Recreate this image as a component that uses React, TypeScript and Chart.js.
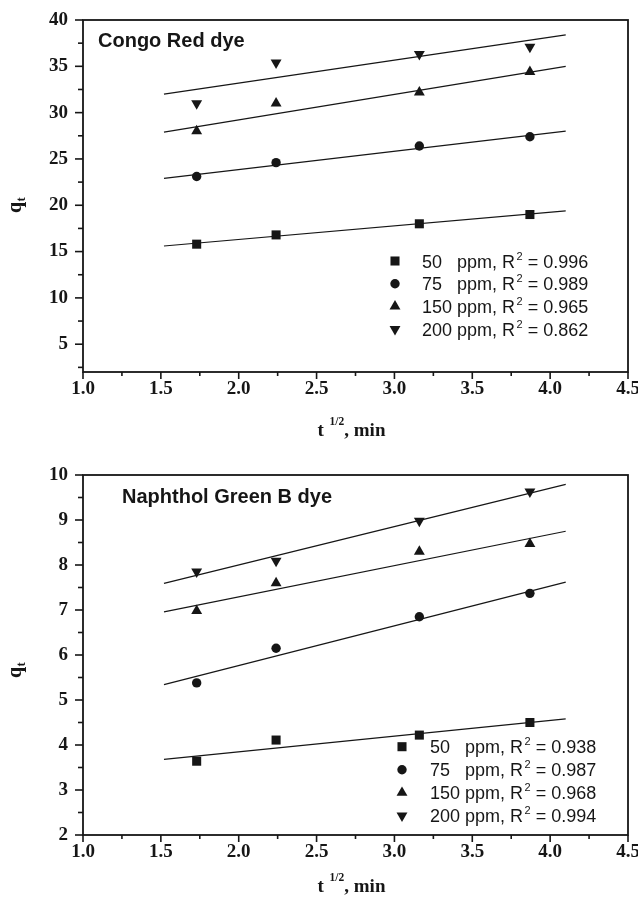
import React, { useEffect, useRef } from 'react';
import { Chart, registerables } from 'chart.js';

Chart.register(...registerables);

// ---------- data ----------
const timeRoot = [1.73, 2.24, 3.16, 3.87];
const fitX = [1.52, 4.1];
const concentrations = ['50', '75', '150', '200'];
const markerStyles = ['rect', 'circle', 'triangle', 'triangle'];
const markerRotations = [0, 0, 0, 180];
const markerRadii = [6.4, 4.7, 6.3, 6.3];

const xMajorTicks = [1.0, 1.5, 2.0, 2.5, 3.0, 3.5, 4.0, 4.5];
const xMinorTicks = [1.25, 1.75, 2.25, 2.75, 3.25, 3.75, 4.25];

// Congo Red dye
const congoQ50 = [15.8, 16.8, 18.0, 19.0];
const congoQ75 = [23.1, 24.6, 26.4, 27.4];
const congoQ150 = [28.0, 31.0, 32.2, 34.4];
const congoQ200 = [31.0, 35.4, 36.3, 37.1];
const congoFit50 = [15.6, 19.4];
const congoFit75 = [22.9, 28.0];
const congoFit150 = [27.9, 35.0];
const congoFit200 = [32.0, 38.4];
const congoR2 = ['0.996', '0.989', '0.965', '0.862'];
const congoYMajor = [5, 10, 15, 20, 25, 30, 35, 40];
const congoYMinor = [2.5, 7.5, 12.5, 17.5, 22.5, 27.5, 32.5, 37.5];

// Naphthol Green B dye
const naphQ50 = [3.64, 4.11, 4.22, 4.5];
const naphQ75 = [5.38, 6.15, 6.85, 7.37];
const naphQ150 = [6.98, 7.6, 8.3, 8.47];
const naphQ200 = [7.85, 8.09, 8.98, 9.63];
const naphFit50 = [3.68, 4.58];
const naphFit75 = [5.34, 7.62];
const naphFit150 = [6.96, 8.75];
const naphFit200 = [7.59, 9.79];
const naphR2 = ['0.938', '0.987', '0.968', '0.994'];
const naphYMajor = [2, 3, 4, 5, 6, 7, 8, 9, 10];
const naphYMinor = [2.5, 3.5, 4.5, 5.5, 6.5, 7.5, 8.5, 9.5];

// ---------- layout ----------
type PanelSpec = {
  title: string;
  q: number[][];
  fit: number[][];
  r2: string[];
  yMin: number;
  yMax: number;
  yMajor: number[];
  yMinor: number[];
  padTop: number;
  xAxisHeight: number;
  titleX: number;
  titleY: number;
  legSymX: number;
  legTextX: number;
  legY0: number;
  legDy: number;
  xTitleBase: number;
  yTitleStart: number;
};

const panels: PanelSpec[] = [
  {
    title: 'Congo Red dye',
    q: [congoQ50, congoQ75, congoQ150, congoQ200],
    fit: [congoFit50, congoFit75, congoFit150, congoFit200],
    r2: congoR2,
    yMin: 2,
    yMax: 40,
    yMajor: congoYMajor,
    yMinor: congoYMinor,
    padTop: 20,
    xAxisHeight: 77,
    titleX: 98,
    titleY: 47,
    legSymX: 395,
    legTextX: 422,
    legY0: 261,
    legDy: 22.7,
    xTitleBase: 436,
    yTitleStart: 213,
  },
  {
    title: 'Naphthol Green B dye',
    q: [naphQ50, naphQ75, naphQ150, naphQ200],
    fit: [naphFit50, naphFit75, naphFit150, naphFit200],
    r2: naphR2,
    yMin: 2,
    yMax: 10,
    yMajor: naphYMajor,
    yMinor: naphYMinor,
    padTop: 26,
    xAxisHeight: 63,
    titleX: 122,
    titleY: 54,
    legSymX: 402,
    legTextX: 430,
    legY0: 297.7,
    legDy: 23,
    xTitleBase: 443,
    yTitleStart: 229,
  },
];

const INK = '#161616';
const SERIF = '"Liberation Serif", "Times New Roman", serif';
const SANS = '"Liberation Sans", Arial, sans-serif';

function drawMarker(ctx: CanvasRenderingContext2D, style: string, rot: number, r: number, x: number, y: number) {
  ctx.beginPath();
  if (style === 'rect') {
    const s = Math.SQRT1_2 * r;
    ctx.rect(x - s, y - s, 2 * s, 2 * s);
  } else if (style === 'circle') {
    ctx.arc(x, y, r, 0, Math.PI * 2);
  } else {
    let a = (rot * Math.PI) / 180;
    ctx.moveTo(x + Math.sin(a) * r, y - Math.cos(a) * r);
    a += (2 * Math.PI) / 3;
    ctx.lineTo(x + Math.sin(a) * r, y - Math.cos(a) * r);
    a += (2 * Math.PI) / 3;
    ctx.lineTo(x + Math.sin(a) * r, y - Math.cos(a) * r);
    ctx.closePath();
  }
  ctx.fill();
}

function buildConfig(spec: PanelSpec): any {
  const datasets: any[] = [];
  spec.q.forEach((vals, i) => {
    datasets.push({
      label: concentrations[i] + ' ppm',
      data: timeRoot.map((x, j) => ({ x, y: vals[j] })),
      showLine: false,
      pointStyle: markerStyles[i],
      pointRotation: markerRotations[i],
      pointRadius: markerRadii[i],
      pointBackgroundColor: INK,
      pointBorderColor: INK,
      pointBorderWidth: 0,
    });
    datasets.push({
      label: concentrations[i] + ' fit',
      data: fitX.map((x, j) => ({ x, y: spec.fit[i][j] })),
      showLine: true,
      borderColor: INK,
      borderWidth: 1.2,
      pointRadius: 0,
      fill: false,
      tension: 0,
    });
  });

  const decor = {
    id: 'decor',
    afterDraw(chart: any) {
      const { ctx, chartArea: a, scales } = chart;
      const xs = scales.x;
      const ys = scales.y;
      ctx.save();
      ctx.strokeStyle = INK;
      ctx.lineWidth = 1.6;
      const seg = (x1: number, y1: number, x2: number, y2: number) => {
        ctx.beginPath();
        ctx.moveTo(x1, y1);
        ctx.lineTo(x2, y2);
        ctx.stroke();
      };
      xMajorTicks.forEach((v) => {
        const p = xs.getPixelForValue(v);
        seg(p, a.bottom, p, a.bottom + 7);
      });
      xMinorTicks.forEach((v) => {
        const p = xs.getPixelForValue(v);
        seg(p, a.bottom, p, a.bottom + 4);
      });
      spec.yMajor.forEach((v) => {
        const p = ys.getPixelForValue(v);
        seg(a.left - 8, p, a.left, p);
      });
      spec.yMinor.forEach((v) => {
        const p = ys.getPixelForValue(v);
        seg(a.left - 5, p, a.left, p);
      });
      ctx.lineWidth = 1.8;
      ctx.strokeRect(a.left, a.top, a.right - a.left, a.bottom - a.top);

      ctx.fillStyle = INK;
      ctx.textAlign = 'left';
      ctx.textBaseline = 'alphabetic';

      // panel title
      ctx.font = 'bold 20px ' + SANS;
      ctx.fillText(spec.title, spec.titleX, spec.titleY);

      // legend
      spec.r2.forEach((r, i) => {
        const yy = spec.legY0 + i * spec.legDy;
        drawMarker(ctx, markerStyles[i], markerRotations[i], markerRadii[i], spec.legSymX, yy);
        const base = yy + 6.5;
        ctx.font = '18px ' + SANS;
        ctx.fillText(concentrations[i], spec.legTextX, base);
        let cx = spec.legTextX + 35;
        ctx.fillText('ppm, R', cx, base);
        cx += ctx.measureText('ppm, R').width + 1.5;
        ctx.font = '11px ' + SANS;
        ctx.fillText('2', cx, base - 8);
        cx += ctx.measureText('2').width;
        ctx.font = '18px ' + SANS;
        ctx.fillText(' = ' + r, cx, base);
      });

      // x axis title: t^{1/2}, min
      let tx = 317.5;
      ctx.font = 'bold 19px ' + SERIF;
      ctx.fillText('t', tx, spec.xTitleBase);
      tx += ctx.measureText('t ').width + 1;
      ctx.font = 'bold 11.5px ' + SERIF;
      ctx.fillText('1/2', tx, spec.xTitleBase - 11);
      tx += ctx.measureText('1/2').width;
      ctx.font = 'bold 19px ' + SERIF;
      ctx.fillText(', min', tx, spec.xTitleBase);

      // y axis title: q_t (rotated)
      ctx.save();
      ctx.translate(21, spec.yTitleStart);
      ctx.rotate(-Math.PI / 2);
      ctx.font = 'bold 20px ' + SERIF;
      ctx.fillText('q', 0, 0);
      const qw = ctx.measureText('q').width;
      ctx.font = 'bold 13px ' + SERIF;
      ctx.fillText('t', qw + 0.5, 4);
      ctx.restore();

      ctx.restore();
    },
  };

  const tickFont = { family: SERIF, weight: 'bold', size: 19 };

  return {
    type: 'scatter',
    data: { datasets },
    plugins: [decor],
    options: {
      responsive: false,
      animation: false,
      events: [],
      layout: { padding: { left: 0, right: 10, top: spec.padTop, bottom: 0 } },
      plugins: { legend: { display: false }, tooltip: { enabled: false }, title: { display: false } },
      scales: {
        x: {
          type: 'linear',
          min: 1,
          max: 4.5,
          afterBuildTicks: (s: any) => {
            s.ticks = xMajorTicks.map((v) => ({ value: v }));
          },
          ticks: {
            callback: (v: any) => Number(v).toFixed(1),
            font: tickFont,
            color: INK,
            padding: 6,
            maxRotation: 0,
            autoSkip: false,
          },
          grid: { display: false, drawTicks: false },
          border: { display: false },
          afterFit: (s: any) => {
            s.height = spec.xAxisHeight;
            s.paddingLeft = 0;
            s.paddingRight = 0;
          },
        },
        y: {
          type: 'linear',
          min: spec.yMin,
          max: spec.yMax,
          afterBuildTicks: (s: any) => {
            s.ticks = spec.yMajor.map((v) => ({ value: v }));
          },
          ticks: {
            callback: (v: any) => String(v),
            font: tickFont,
            color: INK,
            padding: 15,
            autoSkip: false,
          },
          grid: { display: false, drawTicks: false },
          border: { display: false },
          afterFit: (s: any) => {
            s.width = 83;
            s.paddingTop = 0;
            s.paddingBottom = 0;
          },
        },
      },
    },
  };
}

function Panel({ spec, top }: { spec: PanelSpec; top: number }) {
  const ref = useRef<HTMLCanvasElement>(null);
  useEffect(() => {
    const chart = new Chart(ref.current as HTMLCanvasElement, buildConfig(spec));
    return () => chart.destroy();
  }, [spec]);
  return (
    <canvas
      ref={ref}
      width={638}
      height={449}
      style={{ position: 'absolute', left: 0, top, width: 638, height: 449 }}
    />
  );
}

export default function App() {
  return (
    <div style={{ position: 'absolute', left: 0, top: 0, width: 638, height: 898, background: '#fff' }}>
      <Panel spec={panels[0]} top={0} />
      <Panel spec={panels[1]} top={449} />
    </div>
  );
}
